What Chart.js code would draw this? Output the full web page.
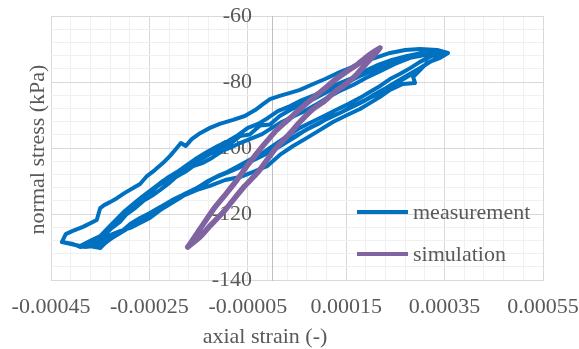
<!DOCTYPE html>
<html>
<head>
<meta charset="utf-8">
<script src="https://cdn.jsdelivr.net/npm/chart.js@4.4.1/dist/chart.umd.min.js"></script>
<style>
html,body{margin:0;padding:0;background:#fff}
canvas{display:block}
</style>
</head>
<body>
<canvas id="chart" width="579" height="349"></canvas>
<script>
const FONT="'Liberation Serif','Times New Roman',serif";
const TEXT="#595959";

// measurement, strain in microstrain (x1e-6), stress in kPa
// one line per branch: up, down, up, down ...
const measStrain=[
-428,-420,-407,-385,-357,-350,-342,-330,-316,-300,-283,-269,-255,-239,-222,-208,-196,-186,-176,-164,-147,-127,-107,-80,-56,-35,-19,-5,15,36,56,83,107,137,162,184,209,239,270,300,335,357,
341,314,300,286,290,265,239,219,198,178,152,123,97,66,42,15,-11,-35,-66,-96,-127,-153,-182,-208,-228,-249,-269,-289,-306,-324,-340,-350,-371,-391,-405,-428,
-391,-367,-350,-330,-316,-300,-283,-265,-249,-228,-214,-198,-182,-164,-147,-127,-107,-86,-66,-46,-25,-5,15,36,56,83,107,131,158,182,209,239,265,296,324,351,
324,304,284,263,243,223,202,182,158,133,107,80,56,32,9,-11,-35,-60,-82,-107,-131,-153,-172,-188,-208,-228,-249,-269,-289,-310,-330,-350,-367,
-350,-334,-316,-300,-283,-265,-249,-233,-214,-194,-174,-153,-133,-111,-90,-70,-50,-29,-9,11,36,60,87,111,137,162,188,215,243,274,304,341,
320,300,280,259,239,219,198,178,154,129,105,80,56,36,15,-5,-25,-46,-70,-92,-117,-137,-157,-178,-198,-218,-239,-259,-279,-300,-320,-340,-361,-381,
-381,-361,-344,-326,-310,-296,-279,-263,-245,-228,-212,-196,-178,-161,-141,-123,-102,-82,-66,-46,-21,-1,19,40,62,87,111,137,164,190,219,249,280,310,347,
320,296,272,251,231,209,188,164,141,117,93,68,46,26,3,-21,-46,-70,-94,-119,-143,-163,-186,-204,-224,-245,-265,-285,-306,-326,-344,-363
];
const measStress=[
-128.5,-126.1,-125.2,-123.9,-121.8,-118.2,-117.3,-116.4,-115.2,-113.6,-112.1,-110.9,-108.5,-106.7,-104.5,-102.4,-100.3,-98.5,-99.4,-97.3,-95.5,-93.9,-92.7,-91.5,-90.3,-88.5,-86.7,-85.2,-84.2,-83.3,-82.4,-80.6,-79.1,-77.0,-75.5,-73.9,-72.7,-71.2,-70.3,-70.0,-70.3,-71.2,
-72.7,-74.2,-76.4,-78.5,-80.3,-80.6,-82.4,-84.5,-86.4,-88.2,-90.0,-92.1,-94.5,-97.3,-99.4,-102.1,-105.5,-107.0,-108.8,-109.7,-111.5,-112.7,-114.5,-116.4,-117.9,-119.7,-121.2,-123.0,-125.2,-127.0,-128.8,-130.3,-129.7,-130.0,-129.1,-128.5,
-129.7,-127.9,-126.7,-123.6,-121.5,-119.1,-117.0,-114.8,-113.0,-110.6,-109.1,-107.6,-106.4,-104.8,-103.6,-101.8,-100.3,-98.8,-96.4,-95.9,-93.2,-92.9,-90.3,-88.5,-87.0,-85.2,-83.3,-81.5,-79.7,-77.9,-76.1,-74.2,-73.0,-71.8,-70.9,-71.8,
-73.6,-75.5,-77.6,-79.4,-81.2,-83.0,-84.5,-86.1,-87.9,-89.7,-91.5,-93.6,-95.5,-97.6,-99.4,-101.5,-103.0,-104.8,-106.7,-108.2,-110.0,-112.1,-113.6,-115.2,-117.0,-118.8,-121.2,-122.7,-124.2,-125.2,-126.4,-127.9,-129.1,
-127.3,-125.2,-122.4,-119.7,-117.6,-115.5,-113.6,-111.5,-109.7,-107.3,-105.2,-103.0,-101.2,-99.4,-97.9,-96.1,-93.9,-92.7,-90.9,-88.8,-87.3,-85.5,-83.9,-82.1,-80.3,-78.8,-76.7,-74.8,-73.3,-72.1,-71.2,-70.9,
-72.4,-73.9,-75.8,-77.6,-79.1,-81.2,-83.0,-84.8,-86.7,-88.5,-90.3,-92.1,-93.9,-95.8,-97.9,-100.0,-102.1,-103.6,-105.5,-107.3,-109.1,-110.6,-112.4,-113.9,-115.5,-117.3,-119.4,-121.5,-123.3,-124.8,-126.7,-128.2,-129.7,-130.0,
-130.0,-128.2,-126.7,-124.2,-122.4,-120.0,-118.2,-116.1,-114.5,-112.7,-110.9,-108.8,-107.3,-105.5,-104.5,-103.0,-100.9,-99.7,-98.5,-97.3,-95.8,-93.9,-92.1,-90.6,-89.1,-87.0,-84.8,-82.7,-80.9,-78.8,-76.7,-74.5,-72.7,-71.8,-72.1,
-73.9,-76.1,-78.2,-80.0,-81.8,-83.6,-85.5,-87.3,-89.1,-90.6,-92.7,-94.5,-96.7,-98.5,-100.6,-102.4,-104.2,-106.1,-107.6,-109.1,-111.5,-113.0,-114.5,-115.8,-117.6,-119.4,-121.8,-123.6,-125.5,-127.3,-129.1,-130.0
];

// simulation loop (lower branch up, upper branch back down)
const simStrain=[-172,-147,-127,-113,-96,-80,-56,-31,-11,9,36,56,80,103,127,152,172,194,219,194,172,152,127,103,83,56,36,9,-11,-31,-52,-72,-96,-121,-147,-172];
const simStress=[-130.0,-127.0,-123.6,-121.5,-118.8,-115.8,-111.5,-107.6,-103.6,-99.7,-95.5,-92.1,-88.5,-86.1,-83.0,-80.3,-77.6,-73.9,-69.7,-72.1,-74.8,-76.7,-79.4,-82.4,-84.8,-88.2,-90.9,-94.5,-97.9,-101.5,-105.5,-109.7,-114.2,-118.8,-124.5,-130.0];

const xMajorTicks=[-0.00045,-0.00025,-0.00005,0.00015,0.00035,0.00055];
const yMajorTicks=[-140,-120,-100,-80,-60];
const minorPerMajor=5;
const yAxisAt=0;            // vertical axis crosses here
const yLabelsAt=-0.0000415; // right edge of the y tick labels

function pts(xs,ys){return xs.map((v,i)=>({x:v*1e-6,y:ys[i]}));}

function withMinor(majors){
  const out=[];
  for(let i=0;i<majors.length-1;i++){
    const step=(majors[i+1]-majors[i])/minorPerMajor;
    for(let k=0;k<minorPerMajor;k++) out.push({value:majors[i]+k*step});
  }
  out.push({value:majors[majors.length-1]});
  return out;
}

const gridColor=ctx=>ctx.index%minorPerMajor===0?"#d9d9d9":"#f0f0f0";
const noPad=s=>{s.width=0;s.paddingTop=0;s.paddingBottom=0;s.paddingLeft=0;s.paddingRight=0;};

// titles + legend inside plot area
const overlay={
  id:"overlay",
  afterDraw(chart){
    const c=chart.ctx;
    c.save();
    c.fillStyle=TEXT;
    c.font="22px "+FONT;
    c.textAlign="center";
    c.textBaseline="alphabetic";
    c.fillText("axial strain (-)",265,343);
    c.translate(43.5,149.5);
    c.rotate(-Math.PI/2);
    c.fillText("normal stress (kPa)",0,0);
    c.restore();

    chart.data.datasets.forEach((ds,i)=>{
      const y=212+i*42;
      c.save();
      c.strokeStyle=ds.borderColor;
      c.lineWidth=4;
      c.beginPath();c.moveTo(357,y);c.lineTo(408,y);c.stroke();
      c.fillStyle=TEXT;
      c.font="22px "+FONT;
      c.textAlign="left";
      c.textBaseline="alphabetic";
      c.fillText(ds.label,413,y+7);
      c.restore();
    });
  }
};

new Chart(document.getElementById("chart"),{
  type:"scatter",
  data:{
    datasets:[
      {label:"measurement",data:pts(measStrain,measStress),showLine:true,borderColor:"#0070C0",borderWidth:4,
       pointRadius:0,tension:0,borderJoinStyle:"round",borderCapStyle:"round",order:1},
      {label:"simulation",data:pts(simStrain,simStress),showLine:true,borderColor:"#8064A2",borderWidth:5.5,
       pointRadius:0,tension:0.2,borderJoinStyle:"round",borderCapStyle:"round",order:0}
    ]
  },
  options:{
    responsive:false,
    devicePixelRatio:1,
    animation:false,
    layout:{padding:{left:51,right:36,top:16,bottom:0}},
    plugins:{legend:{display:false},tooltip:{enabled:false}},
    scales:{
      x:{
        type:"linear",
        min:xMajorTicks[0],
        max:xMajorTicks[xMajorTicks.length-1],
        afterBuildTicks:s=>{s.ticks=withMinor(xMajorTicks);},
        afterFit:s=>{s.height=69;s.paddingLeft=0;s.paddingRight=0;},
        grid:{color:gridColor,drawTicks:false,lineWidth:1},
        border:{color:"#d9d9d9"},
        ticks:{
          autoSkip:false,maxRotation:0,padding:14,color:TEXT,font:{family:FONT,size:22},
          callback:(v,i)=>i%minorPerMajor===0?v.toFixed(5):""
        }
      },
      y:{
        type:"linear",
        position:{x:yAxisAt},
        min:yMajorTicks[0],
        max:yMajorTicks[yMajorTicks.length-1],
        afterBuildTicks:s=>{s.ticks=withMinor(yMajorTicks);},
        afterFit:noPad,
        grid:{color:gridColor,drawTicks:false,lineWidth:1},
        border:{color:"#bfbfbf"},
        ticks:{display:false}
      },
      yLabels:{
        axis:"y",
        type:"linear",
        position:{x:yLabelsAt},
        min:yMajorTicks[0],
        max:yMajorTicks[yMajorTicks.length-1],
        afterBuildTicks:s=>{s.ticks=yMajorTicks.map(v=>({value:v}));},
        afterFit:noPad,
        grid:{display:false,drawTicks:false},
        border:{display:false},
        ticks:{autoSkip:false,padding:0,color:TEXT,font:{family:FONT,size:22},callback:v=>String(Math.round(v))}
      }
    }
  },
  plugins:[overlay]
});
</script>
</body>
</html>
